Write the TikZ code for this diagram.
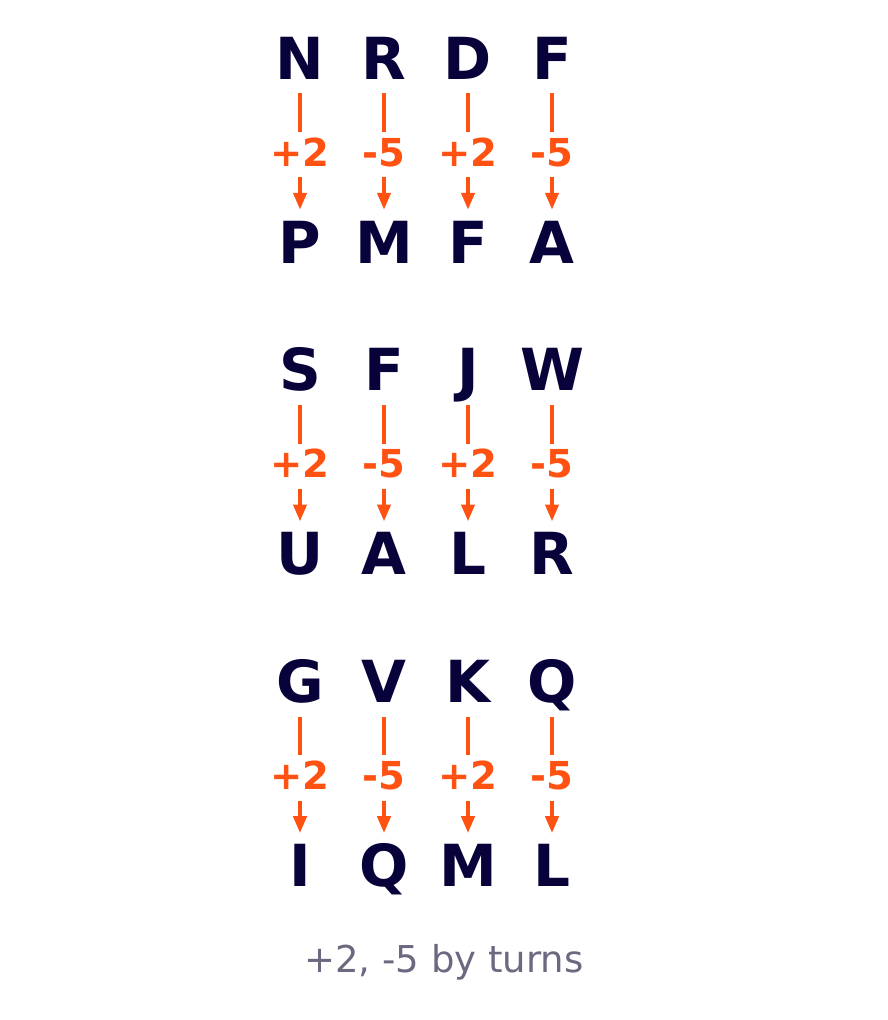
\documentclass[tikz,border=0pt]{standalone}
\usepackage{fontspec}
\setmainfont{DejaVu Sans}
\usetikzlibrary{arrows.meta}
\definecolor{navy}{HTML}{07033A}
\definecolor{accent}{HTML}{FF5212}
\definecolor{capgray}{HTML}{6B6980}
\tikzset{
  letter/.style={inner sep=0pt, text=navy, font=\fontsize{58}{58}\selectfont\bfseries, text height=42pt, text depth=0pt, anchor=base},
  shiftlabel/.style={inner sep=0pt, text=accent, font=\fontsize{38.5}{38.5}\selectfont\bfseries, text height=28pt, text depth=0pt, anchor=base},
  link/.style={draw=accent, line width=4pt},
  linkarrow/.style={link, -{Triangle[length=17pt,width=13pt]}},
  caption/.style={inner sep=0pt, text=capgray, font=\fontsize{37}{37}\selectfont, anchor=base},
}
\begin{document}
\begin{tikzpicture}[x=1pt,y=1pt]
\useasboundingbox (0,0) rectangle (888,-1020);
\foreach \r/\yt/\entries in {1/58/{300/N/P/+2,384/R/M/-5,468/D/F/+2,552/F/A/-5},
                            2/369.7/{300/S/U/+2,384/F/A/-5,468/J/L/+2,552/W/R/-5},
                            3/681.4/{300/G/I/+2,384/V/Q/-5,468/K/M/+2,552/Q/L/-5}} {
  \foreach \x/\t/\b/\lab [count=\c] in \entries {
    \node[letter] (t\r\c) at (\x,-\yt-21) {\t};
    \node[shiftlabel] (l\r\c) at (\x,-\yt-108) {\lab};
    \node[letter] (b\r\c) at (\x,-\yt-205) {\b};
    \draw[link] ([yshift=-14pt]t\r\c.south) -- ([yshift=6pt]l\r\c.north);
    \draw[linkarrow] ([yshift=-11pt]l\r\c.south) -- ([yshift=11pt]b\r\c.north);
  }
}
\node[caption] (cap) at (444,-972) {+2, -5 by turns};
\end{tikzpicture}
\end{document}
